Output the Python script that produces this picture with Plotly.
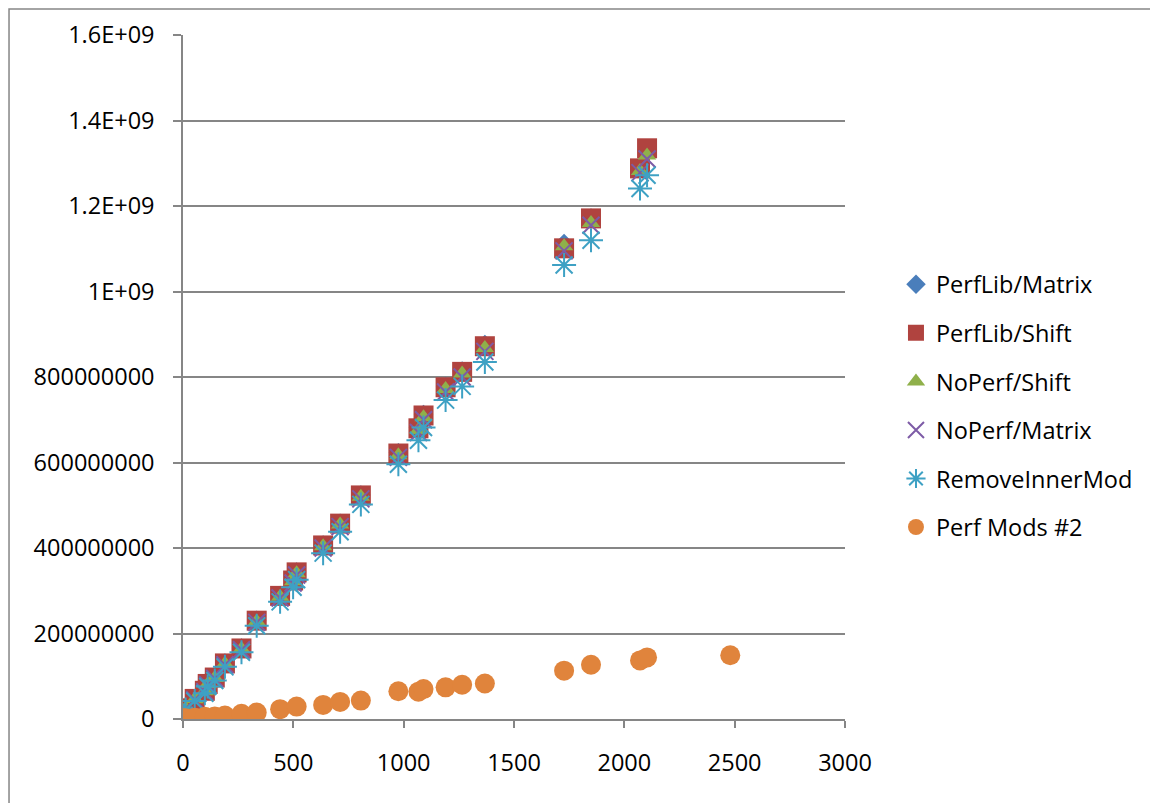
import plotly.graph_objects as go

# ---- data ----
x_main = [5, 12, 53, 99, 112, 144, 190, 265, 334, 440, 499, 515, 635, 712, 806,
          976, 1067, 1090, 1190, 1265, 1368, 1727, 1849, 2071, 2103]
perflib_matrix = [10e6, 26e6, 48e6, 67e6, 83e6, 98e6, 131e6, 166e6, 231e6, 289e6, 325e6, 344e6,
                  407e6, 458e6, 524e6, 623e6, 682e6, 712e6, 778e6, 814e6, 876e6, 1112e6, 1172e6, 1290e6, 1333e6]
perflib_shift = [10e6, 25e6, 47e6, 66e6, 82e6, 97e6, 130e6, 165e6, 230e6, 288e6, 324e6, 343e6,
                 406e6, 457e6, 523e6, 621e6, 680e6, 710e6, 776e6, 812e6, 872e6, 1101e6, 1171e6, 1288e6, 1335e6]
noperf_shift = [9e6, 24e6, 46e6, 65e6, 81e6, 96e6, 129e6, 164e6, 228e6, 286e6, 322e6, 341e6,
                404e6, 455e6, 520e6, 617e6, 676e6, 706e6, 772e6, 808e6, 868e6, 1106e6, 1160e6, 1282e6, 1318e6]
noperf_matrix = [9e6, 24e6, 45e6, 64e6, 80e6, 95e6, 127e6, 162e6, 226e6, 283e6, 318e6, 337e6,
                 400e6, 450e6, 515e6, 612e6, 670e6, 700e6, 765e6, 800e6, 860e6, 1095e6, 1155e6, 1278e6, 1310e6]
remove_inner_mod = [8e6, 22e6, 42e6, 60e6, 76e6, 90e6, 122e6, 156e6, 218e6, 274e6, 308e6, 326e6,
                    388e6, 438e6, 502e6, 596e6, 652e6, 682e6, 746e6, 778e6, 835e6, 1062e6, 1120e6, 1241e6, 1272e6]

x_mods = [5, 12, 53, 99, 144, 190, 265, 334, 440, 515, 635, 712, 806,
          976, 1067, 1090, 1190, 1265, 1368, 1727, 1849, 2071, 2103, 2480]
perf_mods2 = [1e6, 2e6, 3e6, 5e6, 6e6, 8e6, 12e6, 15e6, 23e6, 29e6, 33e6, 40e6, 43e6,
              65e6, 64e6, 70e6, 74e6, 80e6, 83e6, 113e6, 127e6, 137e6, 144e6, 149e6]

y_tickvals = [0, 200e6, 400e6, 600e6, 800e6, 1e9, 1.2e9, 1.4e9, 1.6e9]
y_ticktext = ["0", "200000000", "400000000", "600000000", "800000000",
              "1E+09", "1.2E+09", "1.4E+09", "1.6E+09"]
x_tickvals = [0, 500, 1000, 1500, 2000, 2500, 3000]

series = [
    ("PerfLib/Matrix", x_main, perflib_matrix, "diamond", "#4A7EBB", 15),
    ("PerfLib/Shift", x_main, perflib_shift, "square", "#B0433F", 20),
    ("NoPerf/Shift", x_main, noperf_shift, "triangle-up", "#8FB04A", 16),
    ("NoPerf/Matrix", x_main, noperf_matrix, "x-thin-open", "#7D5BA6", 17),
    ("RemoveInnerMod", x_main, remove_inner_mod, "asterisk-open", "#3EA1C4", 20),
    ("Perf Mods #2", x_mods, perf_mods2, "circle", "#E0843C", 20),
]

fig = go.Figure()
for i, (name, xs, ys, sym, col, sz) in enumerate(series):
    line_w = 2 if "open" in sym else 0
    fig.add_trace(go.Scatter(
        x=xs, y=ys, mode="markers", name=name, legendgroup=f"g{i}",
        marker=dict(symbol=sym, color=col, size=sz, line=dict(width=line_w, color=col)),
    ))

FONT = "Open Sans, Noto Sans, sans-serif"
fig.update_layout(
    width=1158, height=803,
    margin=dict(l=175, r=321, t=27, b=92, autoexpand=False),
    paper_bgcolor="white", plot_bgcolor="white",
    font=dict(family=FONT, size=23.5, color="black"),
    showlegend=True,
    legend=dict(x=1.077, y=0.4576, xanchor="left", yanchor="middle",
                tracegroupgap=15, font=dict(size=23.5), itemsizing="trace",
                bgcolor="rgba(0,0,0,0)"),
    xaxis=dict(range=[0, 3000], tickvals=x_tickvals, showgrid=False, zeroline=False,
               showline=True, linecolor="#868686", linewidth=1.5,
               ticks="outside", ticklen=7, tickcolor="#868686", tickwidth=1.5,
               ticklabelstandoff=15, tickfont=dict(size=23.5)),
    yaxis=dict(range=[0, 1.6e9], tickvals=y_tickvals, ticktext=y_ticktext,
               showgrid=True, gridcolor="#868686", gridwidth=1.5, zeroline=False,
               showline=True, linecolor="#868686", linewidth=1.5,
               ticks="outside", ticklen=8, tickcolor="#868686", tickwidth=1.5,
               ticklabelstandoff=14, tickfont=dict(size=23.5)),
    shapes=[dict(type="rect", xref="paper", yref="paper",
                 x0=-0.2628, x1=2.0, y0=-1.0, y1=1.038,
                 line=dict(color="#868686", width=1.5), layer="below")],
)

fig.write_html("out.html")
